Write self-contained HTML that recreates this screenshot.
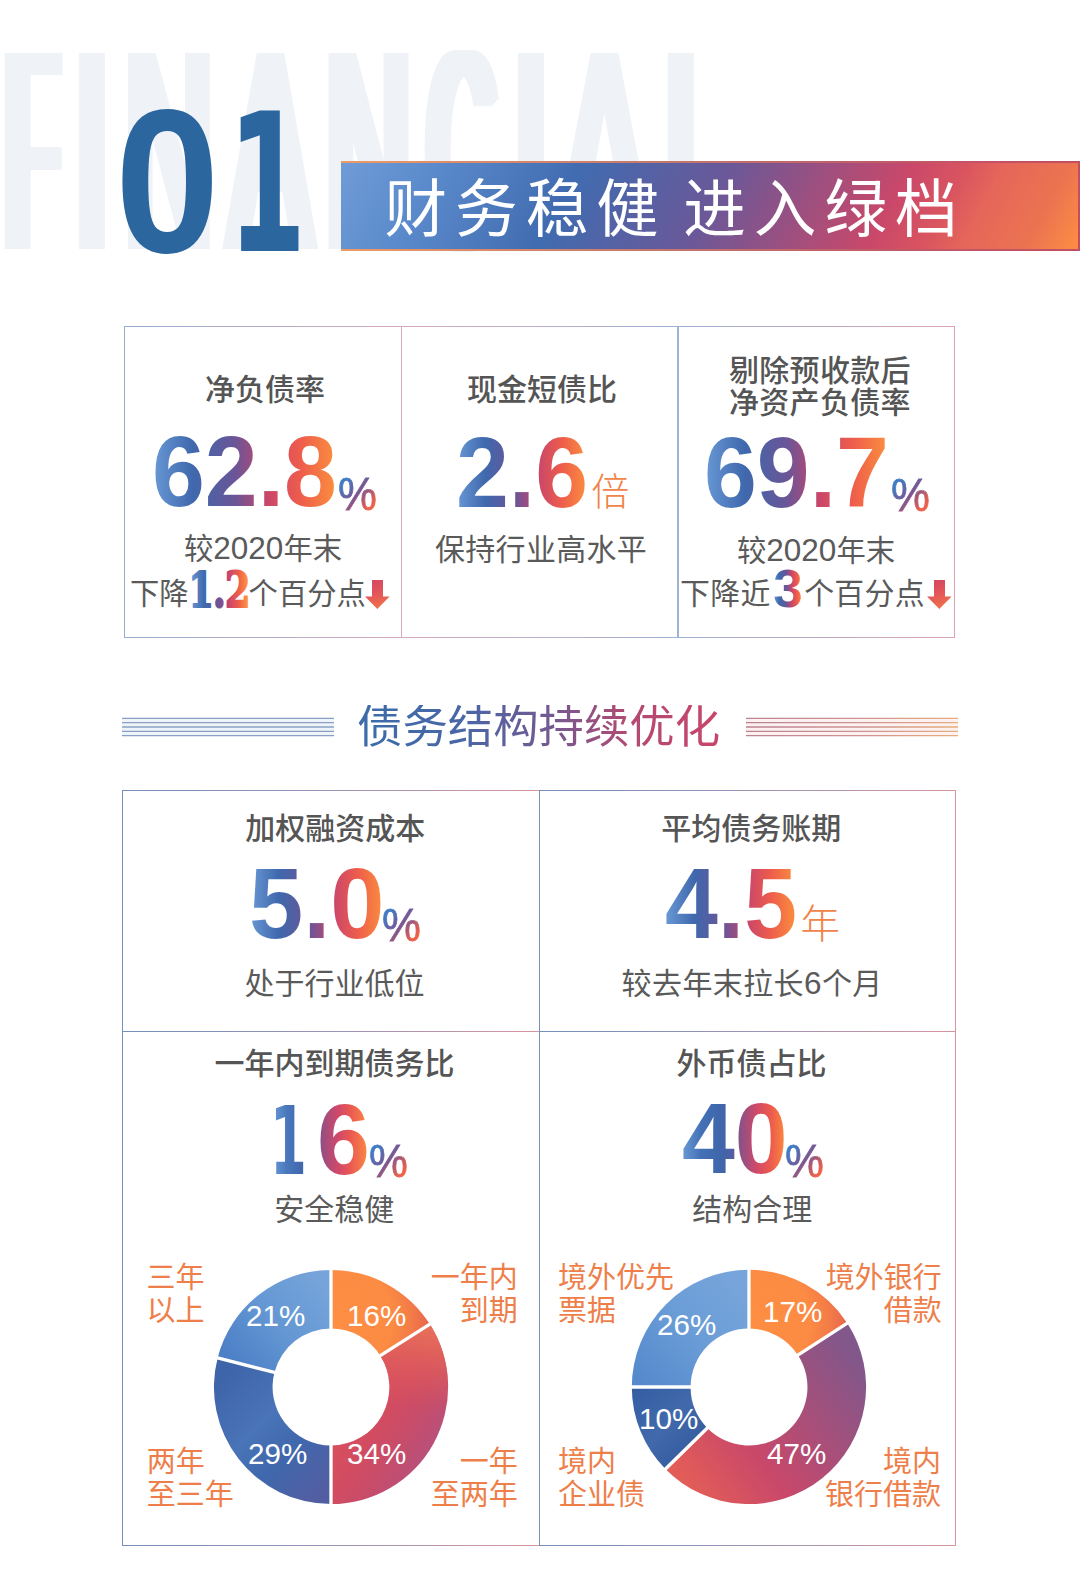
<!DOCTYPE html>
<html lang="zh-CN">
<head>
<meta charset="utf-8">
<title>财务稳健 进入绿档</title>
<style>
*{margin:0;padding:0;box-sizing:border-box}
html,body{width:1080px;height:1574px;background:#fff;overflow:hidden}
body{font-family:"Liberation Sans","Noto Sans CJK SC",sans-serif;color:#595959}
#page{position:relative;width:1080px;height:1574px;overflow:hidden;background:#fff}
.abs{position:absolute;white-space:nowrap;line-height:1}
.wm{position:absolute;left:0;top:7.5px;width:760px;height:285px;font-family:"Liberation Sans",sans-serif;font-weight:400;font-size:285px;line-height:1;color:#eff2f7;white-space:nowrap}
.wm span{position:absolute;top:0;transform-origin:0 0;display:block}
.n0{font-family:"Liberation Sans",sans-serif;font-weight:700;color:#2b669f}
.n1{font-family:"DejaVu Sans",sans-serif;font-weight:700;color:#2b669f}
.banner{position:absolute;left:341px;top:160.5px;width:739px;height:90px;border-style:solid;border-width:2.5px 2px 2.5px 0;border-image:linear-gradient(90deg,#ee9a66 0%,#d98a68 20%,#c4766c 45%,#c05a68 75%,#c24e62 100%) 1;
 background:linear-gradient(118deg,#709cd6 0%,#5b8bcc 12%,#416bb0 31%,#6a5898 50%,#c9486a 73%,#d95460 80%,#e5665a 85%,#ec7450 93.5%,#fa8a45 99%)}
.btxt{left:384.5px;top:178.4px;font-size:62.6px;color:#fff;letter-spacing:8px;word-spacing:-9px;font-weight:400}
.g{background:linear-gradient(90deg,#6a9ad6 0%,#3f68ad 22%,#6a5597 45%,#c8466b 62%,#ee5c4c 80%,#fb913d 100%);
 -webkit-background-clip:text;background-clip:text;color:transparent;-webkit-text-fill-color:transparent}
.big{font-family:"Liberation Sans",sans-serif;font-weight:700;font-size:100px;letter-spacing:0}
.pct{font-family:"Liberation Sans",sans-serif;font-weight:400;font-size:47px;letter-spacing:0;transform-origin:0 0;transform:scaleX(.93);
 background:linear-gradient(135deg,#3f7cc4 20%,#7a5592 50%,#ef6048 80%);-webkit-background-clip:text;background-clip:text;color:transparent;-webkit-text-fill-color:transparent;-webkit-text-stroke:.8px transparent}
.lab{font-size:30px;font-weight:500;color:#555}
.sub{font-size:30px;font-weight:400;color:#5a5a5a}
.box{position:absolute;border:1.8px solid #a9b1bd}
.ol{color:#ee7f4a;font-size:29px;line-height:32.5px;font-weight:400}
.sx{transform-origin:0 0;transform:scaleX(.95)}
.b3{font-family:"Liberation Sans",sans-serif;font-weight:700;font-size:53px;line-height:0;vertical-align:-3px;margin:0 1.5px 0 2.6px;letter-spacing:0}
.unit{font-size:38px;font-weight:300;color:#f0844a}
.arr{position:absolute;display:block}
.ttl{font-size:45.4px;font-weight:400;background:linear-gradient(90deg,#3b6caa 0%,#4a66a6 30%,#77588f 55%,#b24a72 75%,#c9456a 100%);-webkit-background-clip:text;background-clip:text;color:transparent;-webkit-text-fill-color:transparent}
.gbox{position:absolute;border:1.4px solid;border-image:linear-gradient(90deg,#7590bd 0%,#9a93b5 50%,#d8959f 100%) 1}
.d1{font-family:"DejaVu Sans",sans-serif;font-weight:700;font-size:94.5px;transform-origin:0 0;transform:scaleX(.56);background:linear-gradient(90deg,#6a9ad6 5%,#4a78bc 45%,#3f66ab 90%);-webkit-background-clip:text;background-clip:text;color:transparent;-webkit-text-fill-color:transparent}
.g2{background:linear-gradient(90deg,#6a9ad6 0%,#4471b6 18%,#3f66ab 36%,#4f5ea4 47%,#835289 54%,#cf486a 70%,#ee5c4c 85%,#fb913d 100%);-webkit-background-clip:text;background-clip:text;color:transparent;-webkit-text-fill-color:transparent}
.g6{background:linear-gradient(90deg,#77548f 0%,#a94c7a 18%,#d0486a 40%,#ea5852 62%,#f4754a 82%,#fb913d 100%);-webkit-background-clip:text;background-clip:text;color:transparent;-webkit-text-fill-color:transparent}
.dp{font-family:"Liberation Sans","Noto Sans CJK SC",sans-serif;font-size:29.6px;color:#fff;font-weight:400;margin-top:-.6px}
.ol.r{text-align:right}
.dg{font-size:31.5px;line-height:0}
</style>
</head>
<body>
<div id="page">

<!-- header -->
<div class="wm" id="wm"><span style="left:-1.6px;transform:scaleX(0.284);text-shadow:5.0px 0 0 #eff2f7,10.0px 0 0 #eff2f7,15.0px 0 0 #eff2f7,20.0px 0 0 #eff2f7,25.0px 0 0 #eff2f7,30.0px 0 0 #eff2f7,35.0px 0 0 #eff2f7,40.0px 0 0 #eff2f7,45.0px 0 0 #eff2f7,50.0px 0 0 #eff2f7,55.0px 0 0 #eff2f7,60.0px 0 0 #eff2f7,65.0px 0 0 #eff2f7">F</span><span style="left:71.1px;transform:scaleX(0.300);text-shadow:5.0px 0 0 #eff2f7,10.0px 0 0 #eff2f7,15.0px 0 0 #eff2f7,20.0px 0 0 #eff2f7,25.0px 0 0 #eff2f7,30.0px 0 0 #eff2f7,35.0px 0 0 #eff2f7,40.0px 0 0 #eff2f7,45.1px 0 0 #eff2f7,50.1px 0 0 #eff2f7,55.1px 0 0 #eff2f7,60.1px 0 0 #eff2f7">I</span><span style="left:118.1px;transform:scaleX(0.422);text-shadow:5.0px 0 0 #eff2f7,10.0px 0 0 #eff2f7,15.0px 0 0 #eff2f7,20.0px 0 0 #eff2f7,25.0px 0 0 #eff2f7,30.0px 0 0 #eff2f7,35.0px 0 0 #eff2f7">N</span><span style="left:221.7px;transform:scaleX(0.431);text-shadow:4.8px 0 0 #eff2f7,9.6px 0 0 #eff2f7,14.4px 0 0 #eff2f7,19.2px 0 0 #eff2f7,24.1px 0 0 #eff2f7,28.9px 0 0 #eff2f7,33.7px 0 0 #eff2f7">A</span><span style="left:318.5px;transform:scaleX(0.407);text-shadow:5.3px 0 0 #eff2f7,10.6px 0 0 #eff2f7,16.0px 0 0 #eff2f7,21.3px 0 0 #eff2f7,26.6px 0 0 #eff2f7,31.9px 0 0 #eff2f7,37.2px 0 0 #eff2f7">N</span><span style="left:420.4px;transform:scaleX(0.318);text-shadow:5.0px 0 0 #eff2f7,10.0px 0 0 #eff2f7,15.0px 0 0 #eff2f7,20.0px 0 0 #eff2f7,25.0px 0 0 #eff2f7,30.0px 0 0 #eff2f7,35.0px 0 0 #eff2f7,40.0px 0 0 #eff2f7,45.1px 0 0 #eff2f7,50.1px 0 0 #eff2f7,55.1px 0 0 #eff2f7">C</span><span style="left:510.1px;transform:scaleX(0.300);text-shadow:5.0px 0 0 #eff2f7,10.0px 0 0 #eff2f7,15.0px 0 0 #eff2f7,20.0px 0 0 #eff2f7,25.0px 0 0 #eff2f7,30.0px 0 0 #eff2f7,35.0px 0 0 #eff2f7,40.0px 0 0 #eff2f7,45.1px 0 0 #eff2f7,50.1px 0 0 #eff2f7,55.1px 0 0 #eff2f7,60.1px 0 0 #eff2f7">I</span><span style="left:552.7px;transform:scaleX(0.468);text-shadow:4.8px 0 0 #eff2f7,9.6px 0 0 #eff2f7,14.5px 0 0 #eff2f7,19.3px 0 0 #eff2f7,24.1px 0 0 #eff2f7,28.9px 0 0 #eff2f7">A</span><span style="left:661.1px;transform:scaleX(0.293);text-shadow:5.2px 0 0 #eff2f7,10.4px 0 0 #eff2f7,15.5px 0 0 #eff2f7,20.7px 0 0 #eff2f7,25.9px 0 0 #eff2f7,31.1px 0 0 #eff2f7,36.3px 0 0 #eff2f7,41.4px 0 0 #eff2f7,46.6px 0 0 #eff2f7,51.8px 0 0 #eff2f7,57.0px 0 0 #eff2f7,62.2px 0 0 #eff2f7">L</span></div>
<div class="abs n0" id="n0" style="left:115.3px;top:78.5px;font-size:204.5px;transform-origin:0 0;transform:scaleX(.92)">0</div>
<div class="abs n1" id="n1" style="left:228.3px;top:89px;font-size:192px;transform-origin:0 0;transform:scaleX(.585)">1</div>
<div class="banner"></div>
<div class="abs btxt" id="btxt">财务稳健 进入绿档</div>

<!-- top boxes -->
<div class="box" style="left:400.6px;top:326.1px;width:278.4px;height:311.9px;border-image:linear-gradient(90deg,#d6a9bf,#9fb2d3) 1"></div>
<div class="box" style="left:124.2px;top:326.1px;width:278px;height:311.9px;border-image:linear-gradient(90deg,#95aecf,#d6a9bf) 1"></div>
<div class="box" style="left:677.1px;top:326.1px;width:278.2px;height:311.9px;border-image:linear-gradient(90deg,#9fb2d3,#dba3b1) 1"></div>

<!-- box 1 -->
<div class="abs lab" id="t1" style="left:205px;top:375px">净负债率</div>
<div class="abs big g sx" id="b1" style="left:151.5px;top:421.3px">62.8</div>
<div class="abs pct" id="p1" style="left:337.5px;top:469.7px">%</div>
<div class="abs sub" id="s1a" style="left:184px;top:533.5px;font-size:29.3px">较<span class="dg">2020</span>年末</div>
<div class="abs sub" id="s1b" style="left:130px;top:579px;font-size:29.3px">下降<span style="display:inline-block;width:60px"></span>个百分点</div>
<svg class="arr" id="sl12" style="left:185.5px;top:561px" width="70" height="56" viewBox="0 0 70 56"><defs><linearGradient id="g12" gradientUnits="userSpaceOnUse" x1="2" y1="0" x2="78" y2="0"><stop offset="0" stop-color="#6a9ad6"/><stop offset=".25" stop-color="#3f68ad"/><stop offset=".5" stop-color="#6a5597"/><stop offset=".68" stop-color="#c8466b"/><stop offset=".85" stop-color="#ee5c4c"/><stop offset="1" stop-color="#fb913d"/></linearGradient></defs><text x="0" y="46.5" transform="translate(2.5,0) scale(.75,1)" font-family="'DejaVu Serif',serif" font-weight="700" font-size="48.5" letter-spacing="-1" fill="url(#g12)" stroke="url(#g12)" stroke-width="2.2" stroke-linejoin="round">1.2</text></svg>
<svg class="arr" id="a1" style="left:365.3px;top:580px" width="25" height="29" viewBox="0 0 25 29"><defs><linearGradient id="ag" x1="0" y1="0" x2=".25" y2="1"><stop offset="0" stop-color="#d04862"/><stop offset=".5" stop-color="#e2545a"/><stop offset="1" stop-color="#ee6e4c"/></linearGradient></defs><path d="M7 0h11v16.4h6.6L12.3 29 0 16.4h7z" fill="url(#ag)"/></svg>

<!-- box 2 -->
<div class="abs lab" id="t2" style="left:467px;top:375px">现金短债比</div>
<div class="abs big g sx" id="b2" style="left:456px;top:421.6px">2.6</div>
<div class="abs unit" id="u2" style="left:591.2px;top:472.8px">倍</div>
<div class="abs sub" id="s2" style="left:435px;top:534.6px;letter-spacing:.3px">保持行业高水平</div>

<!-- box 3 -->
<div class="abs lab" id="t3a" style="left:729px;top:355.5px;letter-spacing:.3px">剔除预收款后</div>
<div class="abs lab" id="t3b" style="left:729px;top:387.5px;letter-spacing:.3px">净资产负债率</div>
<div class="abs big g sx" id="b3" style="left:704px;top:422px">69.7</div>
<div class="abs pct" id="p3" style="left:890.5px;top:471px">%</div>
<div class="abs sub" id="s3a" style="left:737px;top:535.5px;font-size:29.3px">较<span class="dg">2020</span>年末</div>
<div class="abs sub" id="s3b" style="left:680px;top:578.7px;font-size:29.9px;letter-spacing:.3px">下降近<span class="b3 g" id="sl3">3</span>个百分点</div>
<svg class="arr" id="a3" style="left:927.3px;top:580px" width="25" height="29" viewBox="0 0 25 29"><path d="M7 0h11v16.4h6.6L12.3 29 0 16.4h7z" fill="url(#ag)"/></svg>

<!-- section title -->
<svg class="arr" id="ll" style="left:121px;top:715px" width="214" height="24" viewBox="0 0 214 24"><rect x="1" y="3" width="212" height="18" fill="#eff4f9"/><g stroke="#88a1c4" stroke-width="1.3"><path d="M1 3.3H213M1 7.7H213M1 12H213M1 16.3H213M1 20.6H213"/></g></svg>
<svg class="arr" id="lr" style="left:745px;top:715px" width="214" height="24" viewBox="0 0 214 24"><defs><linearGradient id="lg2" x1="0" y1="0" x2="1" y2="0"><stop offset="0" stop-color="#bb8292"/><stop offset=".6" stop-color="#cf9690"/><stop offset="1" stop-color="#e6ae7c"/></linearGradient></defs><rect x="1" y="3" width="212" height="18" fill="#fdf1f1"/><g stroke="url(#lg2)" stroke-width="1.3"><path d="M1 3.3H213M1 7.7H213M1 12H213M1 16.3H213M1 20.6H213.01"/></g></svg>
<div class="abs ttl" id="ttl" style="left:357px;top:704.6px">债务结构持续优化</div>

<!-- bottom grid -->
<div class="gbox" style="left:122.3px;top:789.8px;width:417.8px;height:242.2px"></div>
<div class="gbox" style="left:538.7px;top:789.8px;width:417px;height:242.2px"></div>
<div class="gbox" style="left:122.3px;top:1030.6px;width:417.8px;height:515.6px"></div>
<div class="gbox" style="left:538.7px;top:1030.6px;width:417px;height:515.6px"></div>

<!-- cell 1 -->
<div class="abs lab" id="c1t" style="left:245.3px;top:814.3px">加权融资成本</div>
<div class="abs big g sx" id="c1b" style="left:249.4px;top:852.5px;transform:scaleX(.975)">5.0</div>
<div class="abs pct" id="c1p" style="left:382.3px;top:900.5px">%</div>
<div class="abs sub" id="c1s" style="left:244.6px;top:969px">处于行业低位</div>

<!-- cell 2 -->
<div class="abs lab" id="c2t" style="left:661.3px;top:813.6px">平均债务账期</div>
<div class="abs big g sx" id="c2b" style="left:665px;top:853px">4.5</div>
<div class="abs unit" id="c2u" style="left:800.5px;top:904.5px;font-size:39.5px">年</div>
<div class="abs sub" id="c2s" style="left:621.6px;top:969.4px;letter-spacing:.4px">较去年末拉长<span class="dg">6</span>个月</div>

<!-- cell 3 -->
<div class="abs lab" id="c3t" style="left:214.5px;top:1048.7px">一年内到期债务比</div>
<div class="abs d1" id="c3b1" style="left:269.7px;top:1093.8px">1</div>
<div class="abs big g6 sx" id="c3b6" style="left:316.7px;top:1088.5px">6</div>
<div class="abs pct" id="c3p" style="left:368.6px;top:1137.3px">%</div>
<div class="abs sub" id="c3s" style="left:274.3px;top:1195px">安全稳健</div>

<!-- cell 4 -->
<div class="abs lab" id="c4t" style="left:676.5px;top:1049px">外币债占比</div>
<div class="abs big g2 sx" id="c4b" style="left:682px;top:1088px">40</div>
<div class="abs pct" id="c4p" style="left:785px;top:1137px">%</div>
<div class="abs sub" id="c4s" style="left:692.2px;top:1195px">结构合理</div>

<!-- donut left -->
<svg class="arr" id="dl" style="left:210.55px;top:1266.5px" width="240" height="240" viewBox="0 0 240 240">
<defs>
<radialGradient id="l0" gradientUnits="userSpaceOnUse" cx="124" cy="52" r="104"><stop offset="0" stop-color="#fd8e42"/><stop offset=".55" stop-color="#fc8b43"/><stop offset=".75" stop-color="#f27a48"/><stop offset=".92" stop-color="#e6644e"/><stop offset="1" stop-color="#e25e50"/></radialGradient>
<linearGradient id="l1" gradientUnits="userSpaceOnUse" x1="150" y1="128" x2="230" y2="179"><stop offset="0" stop-color="#d8505e"/><stop offset=".33" stop-color="#d24c61"/><stop offset=".6" stop-color="#c84c69"/><stop offset=".93" stop-color="#b8507a"/><stop offset="1" stop-color="#b2517c"/></linearGradient><linearGradient id="l1b" gradientUnits="userSpaceOnUse" x1="205" y1="58" x2="190" y2="140"><stop offset="0" stop-color="#e8705a" stop-opacity="1"/><stop offset=".35" stop-color="#e2625a" stop-opacity=".8"/><stop offset="1" stop-color="#dc565c" stop-opacity="0"/></linearGradient>
<linearGradient id="l2" gradientUnits="userSpaceOnUse" x1="120" y1="215" x2="10" y2="110"><stop offset="0" stop-color="#535ea2"/><stop offset=".35" stop-color="#3f68ad"/><stop offset=".6" stop-color="#4a74b8"/><stop offset="1" stop-color="#3e64a9"/></linearGradient>
<linearGradient id="l3" gradientUnits="userSpaceOnUse" x1="115" y1="20" x2="25" y2="100"><stop offset="0" stop-color="#76a4da"/><stop offset=".5" stop-color="#6497d3"/><stop offset="1" stop-color="#4c7fc6"/></linearGradient>
</defs>
<path d="M120.0 2.9A117.1 117.1 0 0 1 218.9 57.3L169.3 88.7A58.4 58.4 0 0 0 120.0 61.6Z" fill="url(#l0)"/>
<path d="M218.9 57.3A117.1 117.1 0 0 1 120.0 237.1L120.0 178.4A58.4 58.4 0 0 0 169.3 88.7Z" fill="url(#l1)"/>
<path d="M218.9 57.3A117.1 117.1 0 0 1 120.0 237.1L120.0 178.4A58.4 58.4 0 0 0 169.3 88.7Z" fill="url(#l1b)"/>
<path d="M120.0 237.1A117.1 117.1 0 0 1 6.6 90.9L63.4 105.5A58.4 58.4 0 0 0 120.0 178.4Z" fill="url(#l2)"/>
<path d="M6.6 90.9A117.1 117.1 0 0 1 120.0 2.9L120.0 61.6A58.4 58.4 0 0 0 63.4 105.5Z" fill="url(#l3)"/>
<path d="M120.0 62.6L120.0 1.9M168.5 89.2L219.7 56.7M120.0 177.4L120.0 238.1M64.4 105.7L5.6 90.6" stroke="#fff" stroke-width="3.3" fill="none"/>
</svg>
<div class="abs dp" id="dl16" style="left:347px;top:1302px">16%</div>
<div class="abs dp" id="dl34" style="left:347px;top:1440px">34%</div>
<div class="abs dp" id="dl29" style="left:248px;top:1440px">29%</div>
<div class="abs dp" id="dl21" style="left:246px;top:1302px">21%</div>
<div class="abs ol" id="ol1" style="left:146.6px;top:1262px">三年<br>以上</div>
<div class="abs ol r" id="ol2" style="right:562.2px;top:1262px">一年内<br>到期</div>
<div class="abs ol" id="ol3" style="left:146.8px;top:1446px">两年<br>至三年</div>
<div class="abs ol r" id="ol4" style="right:562.2px;top:1446px">一年<br>至两年</div>

<!-- donut right -->
<svg class="arr" id="dr" style="left:629.15px;top:1266.5px" width="240" height="240" viewBox="0 0 240 240">
<defs>
<radialGradient id="r0" gradientUnits="userSpaceOnUse" cx="124" cy="52" r="104"><stop offset="0" stop-color="#fd8e42"/><stop offset=".55" stop-color="#fc8b43"/><stop offset=".75" stop-color="#f27a48"/><stop offset=".92" stop-color="#e6644e"/><stop offset="1" stop-color="#e25e50"/></radialGradient>
<linearGradient id="r1" gradientUnits="userSpaceOnUse" x1="215" y1="75" x2="45" y2="200"><stop offset="0" stop-color="#82578a"/><stop offset=".3" stop-color="#a2507c"/><stop offset=".65" stop-color="#c9486a"/><stop offset="1" stop-color="#e25d57"/></linearGradient>
<linearGradient id="r2" gradientUnits="userSpaceOnUse" x1="5" y1="125" x2="70" y2="190"><stop offset="0" stop-color="#355fa3"/><stop offset=".5" stop-color="#4169ac"/><stop offset="1" stop-color="#33599b"/></linearGradient>
<linearGradient id="r3" gradientUnits="userSpaceOnUse" x1="115" y1="20" x2="15" y2="115"><stop offset="0" stop-color="#77a5db"/><stop offset=".5" stop-color="#6a9cd6"/><stop offset="1" stop-color="#568acd"/></linearGradient>
</defs>
<path d="M120.0 2.8A117.2 117.2 0 0 1 218.3 56.2L169.0 88.2A58.4 58.4 0 0 0 120.0 61.6Z" fill="url(#r0)"/>
<path d="M218.3 56.2A117.2 117.2 0 0 1 36.4 202.1L78.3 160.9A58.4 58.4 0 0 0 169.0 88.2Z" fill="url(#r1)"/>
<path d="M36.4 202.1A117.2 117.2 0 0 1 2.8 120.0L61.6 120.0A58.4 58.4 0 0 0 78.3 160.9Z" fill="url(#r2)"/>
<path d="M2.8 120.0A117.2 117.2 0 0 1 120.0 2.8L120.0 61.6A58.4 58.4 0 0 0 61.6 120.0Z" fill="url(#r3)"/>
<path d="M120.0 62.6L120.0 1.8M168.1 88.7L219.1 55.6M79.1 160.2L35.7 202.8M62.6 120.0L1.8 120.0" stroke="#fff" stroke-width="3.3" fill="none"/>
</svg>
<div class="abs dp" id="dr17" style="left:763px;top:1298px">17%</div>
<div class="abs dp" id="dr47" style="left:767px;top:1440px">47%</div>
<div class="abs dp" id="dr10" style="left:639px;top:1405px">10%</div>
<div class="abs dp" id="dr26" style="left:657px;top:1311px">26%</div>
<div class="abs ol" id="or1" style="left:558px;top:1262px">境外优先<br>票据</div>
<div class="abs ol r" id="or2" style="right:138.2px;top:1262px">境外银行<br>借款</div>
<div class="abs ol" id="or3" style="left:558px;top:1446px">境内<br>企业债</div>
<div class="abs ol r" id="or4" style="right:139px;top:1446px">境内<br>银行借款</div>

</div>
</body>
</html>
